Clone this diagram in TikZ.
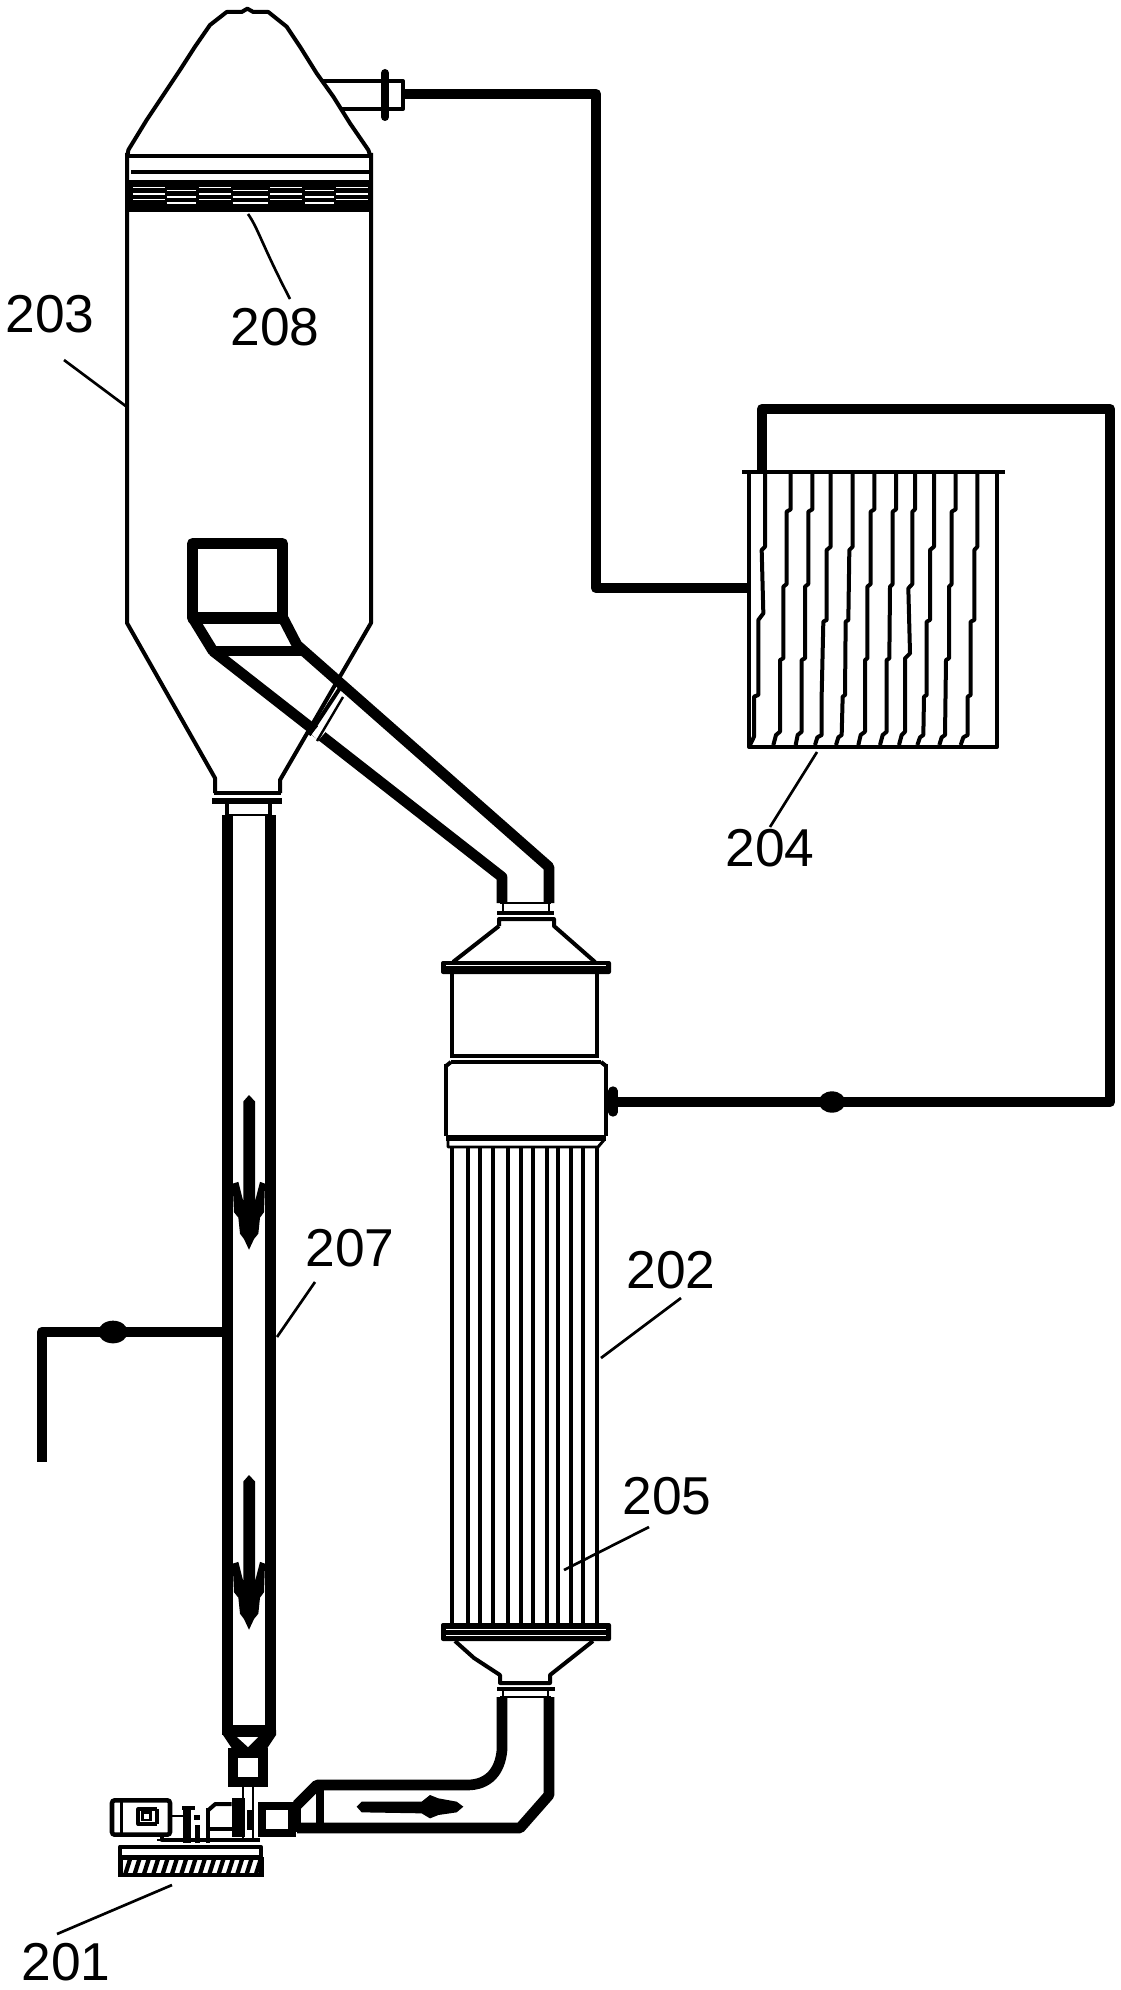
\documentclass[tikz,border=0pt]{standalone}
\usepackage{fontspec}
\setmainfont{Liberation Sans}
\usetikzlibrary{shapes.geometric}
\tikzset{
  wall/.style={line width=3pt,line join=round},
  hair/.style={line width=2.2pt,line join=round},
  pipe/.style={line width=8pt,line join=round},
  leader/.style={line width=2pt},
  label/.style={font=\fontsize{40}{40}\selectfont,inner sep=0pt},
  valve/.style={ellipse,fill=black,minimum width=20pt,minimum height=16pt,inner sep=0pt},
  zoomed/.style={x=0.25pt,y=-0.25pt}
}
\begin{document}
\begin{tikzpicture}[x=0.75pt,y=-0.75pt]
\useasboundingbox (0,0) rectangle (1120,1990);
\fill[white] (0,0) rectangle (1120,1990);

% --- separator 203: top cone, shell, lower cone
\begin{scope}[shift={(100,0)},zoomed]
  \draw[wall] (83,465) -- (85,450) -- (140,360) -- (200,270) -- (240,210) -- (285,140) -- (330,75) -- (380,36) -- (425,36) -- (442,26) -- (460,36) -- (505,36) -- (560,80) -- (600,140) -- (650,220) -- (700,290) -- (750,370) -- (805,450) -- (810,465);
\end{scope}
\draw[wall] (127,156) -- (371,156);
\draw[wall] (131,172) -- (369,172);
\draw[wall] (127,153) -- (127,623) -- (215,778) -- (215,793);
\draw[wall] (371,153) -- (371,623) -- (280,780) -- (280,793);
\draw[wall] (214,793) -- (281,793);
\fill (212,798) rectangle (282,804);
\draw[wall] (227,803) -- (227,816);
\draw[wall] (270,803) -- (270,816);
% packing band 208
\fill (126,180) rectangle (373,212);
\begin{scope}[shift={(100,0)},zoomed]
  \foreach \a/\b in {100/195,297/392,510/607,708/805}{
    \draw[white,line width=1pt] (\a,563) -- (\b,563);
    \draw[white,line width=1.5pt] (\a,581) -- (\b,581);
    \draw[white,line width=1pt] (\a,598) -- (\b,598);
  }
  \foreach \a/\b in {200/288,398/505,615/702}{
    \draw[white,line width=1pt] (\a,571) -- (\b,571);
    \draw[white,line width=1.5pt] (\a,590) -- (\b,590);
    \draw[white,line width=1pt] (\a,609) -- (\b,609);
  }
\end{scope}

% top outlet
\draw[wall] (323,81) -- (403,81) -- (403,109) -- (342,109);
\draw[line width=6pt,line cap=round] (385,73) -- (385,117);
\coordinate (outlet) at (403,94);
\coordinate (c1) at (596,94);
\coordinate (c2) at (596,588);
\coordinate (cond) at (749,588);
\draw[pipe,line cap=butt] (outlet) -- (c1) -- (c2) -- (cond);

% inlet box and duct
\draw[line width=8.4pt,line join=round] (192.5,543.5) rectangle (282.5,618);
\draw[line width=8pt,line cap=round] (194,620) -- (213,651);
\draw[pipe] (213,651) -- (303,651);
\draw[line width=8pt,line join=round] (283,618) -- (297,645) -- (549,867) -- (549,903);
\draw[line width=8pt,line join=round] (213,651) -- (502,877) -- (502,903);
\draw[white,line width=8.5pt] (315,730) -- (322,736);
\draw[hair] (500,903) -- (551,903);
\draw[wall] (497,913) -- (554,913);
\draw[hair] (503,904) -- (503,913);
\draw[hair] (549,904) -- (549,913);
% double line across duct
\draw[wall] (344,682) -- (309,735);
\draw[line width=1.8pt] (343,697) -- (317,741);

% evaporator head
\draw[wall] (499,926) -- (499,919) -- (554,919) -- (554,926) -- (595,962);
\draw[wall] (499,926) -- (453,962);
\fill[rounded corners=1.5pt] (441,961) rectangle (611,974);
\draw[white,line width=1pt] (446,965.5) -- (606,965.5);
\draw[wall] (452,974) -- (452,1056);
\draw[wall] (597,974) -- (597,1056);
\draw[wall] (450,1056) -- (599,1056);
\draw[wall] (451,1062) -- (601,1062);
\draw[wall] (446,1064) -- (446,1136) (606,1064) -- (606,1136);
\draw[wall] (451,1062) -- (446,1066) (601,1062) -- (606,1066);
\draw[line width=3.8pt] (446,1138) -- (606,1138);
\draw[hair] (448,1140) -- (448,1147) -- (598,1147) -- (604,1140);

% tube bundle 205
\foreach \x in {452,468,480,493,508,521,533,547,558,571,583,597}{
  \draw[wall] (\x,1147) -- (\x,1624);
}
\fill[rounded corners=1.5pt] (441,1623) rectangle (611,1641);
\draw[white,line width=1pt] (446,1629.5) -- (606,1629.5);
\draw[white,line width=1pt] (446,1635.5) -- (606,1635.5);
% bottom reducer
\draw[wall] (455,1641) -- (474,1658) -- (500,1675) -- (500,1683) -- (550,1683) -- (550,1675) -- (593,1641);
\draw[wall] (497,1688.5) -- (555,1688.5);
\draw[hair] (503,1690) -- (503,1697);
\draw[hair] (548,1690) -- (548,1697);
\draw[hair] (500,1697) -- (551,1697);

% circulation pipe from evaporator to pump
\draw[pipe] (502,1697) -- (502,1750) .. controls (500,1772) and (488,1785) .. (467,1785) -- (317,1785) -- (297,1805);
\draw[pipe] (549,1697) -- (549,1795) -- (520,1828) -- (297,1828);
\draw[line width=6pt] (320,1785) -- (320,1828);
\draw[line width=6pt] (297,1803) -- (297,1832);
\begin{scope}[shift={(100,1680)},zoomed]
  \fill (770,380) -- (785,365) -- (965,365) -- (990,345) -- (1015,355) -- (1070,365) -- (1090,380) -- (1070,397) -- (1015,405) -- (990,415) -- (965,400) -- (785,397) -- cycle;
\end{scope}

% downcomer 207
\draw[pipe] (227.5,815) -- (227.5,1735);
\draw[pipe] (270.5,815) -- (270.5,1735);
\draw[line width=2pt] (227,815) -- (271,815);
\draw[line width=6pt] (228,1729) -- (271,1729);
\fill (222,1730) -- (276,1730) -- (276,1735) -- (266,1750) -- (233,1750) -- (223,1735) -- cycle;
\fill[white] (237,1737) -- (258,1737) -- (248,1747) -- cycle;
\foreach \s in {1080,1460}{
\begin{scope}[shift={(30,\s)},x=0.25pt,y=-0.268pt]
  \fill (657,42) -- (675,60) -- (675,340) -- (690,285) -- (705,290) -- (702,370) -- (690,385) -- (685,430) -- (672,445) -- (657,475) -- (642,445) -- (630,430) -- (625,385) -- (612,370) -- (608,290) -- (625,285) -- (640,340) -- (640,60) -- cycle;
\end{scope}
}
% discharge valve under downcomer
\draw[line width=7pt] (233,1753) rectangle (263,1782);
\draw[hair] (243,1786) -- (243,1838);
\draw[hair] (253,1786) -- (253,1838);
\draw[line width=6.5pt] (262,1806) rectangle (292,1833);

% side feed
\coordinate (tee) at (227,1332);
\coordinate (bend) at (42,1332);
\coordinate (feedend) at (42,1462);
\draw[pipe] (tee) -- (bend) -- (feedend);
\node[valve,minimum width=22pt,minimum height=17pt] (feedvalve) at (113,1332) {};

% pump set 201
\begin{scope}[shift={(100,1680)},zoomed]
  \draw[line width=3.4pt,rounded corners=2pt] (36,361) rectangle (210,464);
  \draw[hair] (65,362) -- (65,462);
  \draw[wall] (172,388) -- (115,388) -- (115,432) -- (172,432);
  \draw[line width=2.2pt] (127,398) rectangle (152,420);
  \draw[wall] (172,388) -- (172,432);
  \draw[hair] (215,408) -- (248,408);
  \fill (245,378) rectangle (285,390);
  \fill (248,378) rectangle (272,490);
  \fill (283,405) rectangle (300,420);
  \fill (285,435) rectangle (300,490);
  \draw[wall] (323,392) -- (346,372) -- (395,372);
  \draw[wall] (323,385) -- (323,490);
  \draw[wall] (323,448) -- (395,448);
  \fill (395,355) rectangle (435,470);
  \fill (440,390) rectangle (458,450);
  \draw[hair] (240,480) -- (170,480);
  \draw[wall] (185,468) -- (185,480) -- (480,480);
  \draw[wall] (65,500) -- (482,500) -- (482,530) -- (60,530) -- (60,500) -- cycle;
  \fill (55,530) rectangle (70,592);
  \fill (478,530) rectangle (492,592);
  \fill (55,580) rectangle (492,592);
  \fill (55,530) rectangle (492,541);
  \foreach \x in {70,98,126,154,182,210,238,266,294,322,350,378,406,434,462}{
    \draw[line width=3.2pt] (\x+20,538) -- (\x+6,582);
  }
\end{scope}

% condenser 204
\draw[wall] (749,472) -- (749,747) -- (997,747) -- (997,472);
\draw[wall] (742,472) -- (1005,472);
\begin{scope}[shift={(730,400)},zoomed]
  \tikzset{coil/.style={line width=3pt,line join=round}}
  \draw[coil] (105,220)--(105,440)--(95,450)--(100,640)--(85,660)--(85,885)--(72,890)--(72,1010)--(60,1035);
  \draw[coil] (182,220)--(182,328)--(170,335)--(170,552)--(160,560)--(160,775)--(150,780)--(150,995)--(138,1005)--(130,1035);
  \draw[coil] (247,220)--(247,328)--(235,335)--(235,552)--(225,560)--(225,775)--(215,780)--(215,995)--(203,1005)--(197,1035);
  \draw[coil] (302,220)--(302,440)--(290,450)--(290,660)--(280,665)--(275,885)--(275,1005)--(262,1012)--(255,1035);
  \draw[coil] (368,220)--(368,440)--(358,450)--(355,660)--(347,665)--(345,885)--(338,890)--(335,1005)--(325,1012)--(318,1035);
  \draw[coil] (433,220)--(433,328)--(422,335)--(422,552)--(412,560)--(412,775)--(405,780)--(405,995)--(392,1005)--(385,1035);
  \draw[coil] (498,220)--(498,328)--(488,335)--(488,552)--(480,560)--(478,775)--(470,780)--(470,995)--(458,1005)--(450,1035);
  \draw[coil] (555,220)--(555,328)--(547,335)--(547,552)--(535,565)--(540,760)--(525,775)--(525,995)--(515,1005)--(507,1035);
  \draw[coil] (612,220)--(612,440)--(600,450)--(600,660)--(590,665)--(590,885)--(582,890)--(580,1005)--(570,1012)--(562,1035);
  \draw[coil] (677,220)--(677,328)--(665,335)--(665,552)--(657,560)--(657,775)--(648,780)--(645,1005)--(635,1012)--(628,1035);
  \draw[coil] (742,220)--(742,440)--(733,450)--(733,660)--(722,665)--(722,885)--(713,890)--(713,1005)--(700,1012)--(692,1035);
\end{scope}

% return line
\coordinate (r0) at (762,472);
\coordinate (r1) at (762,409);
\coordinate (r2) at (1110,409);
\coordinate (r3) at (1110,1102);
\coordinate (r4) at (613,1102);
\draw[line width=8pt,line join=round] (r0) -- (r1) -- (r2) -- (r3) -- (r4);
\draw[line width=7pt,line cap=round] (613,1091) -- (613,1112);
\node[valve] (retvalve) at (832,1102) {};

% labels and leaders
\node[label] (n203) at (50,314) {203};
\node[label] (n208) at (275,327) {208};
\node[label] (n204) at (770,848) {204};
\node[label] (n202) at (671,1270) {202};
\node[label] (n205) at (667,1496) {205};
\node[label] (n207) at (350,1248) {207};
\node[label] (n201) at (66,1962) {201};
\coordinate (p203) at (127,407);
\coordinate (l203) at (64,360);
\coordinate (p208) at (248,214);
\coordinate (l208) at (290,299);
\coordinate (p204) at (817,752);
\coordinate (l204) at (770,827);
\coordinate (p202) at (601,1358);
\coordinate (l202) at (681,1298);
\coordinate (p205) at (564,1570);
\coordinate (l205) at (649,1527);
\coordinate (p207) at (277,1337);
\coordinate (l207) at (315,1282);
\coordinate (p201) at (172,1885);
\coordinate (l201) at (57,1934);
\draw[leader] (l203) -- (p203);
\draw[leader] (p208) .. controls (258,228) and (262,245) .. (l208);
\draw[leader] (p204) -- (l204);
\draw[leader] (p202) -- (l202);
\draw[leader] (p205) -- (l205);
\draw[leader] (p207) -- (l207);
\draw[leader] (p201) -- (l201);
\end{tikzpicture}
\end{document}
